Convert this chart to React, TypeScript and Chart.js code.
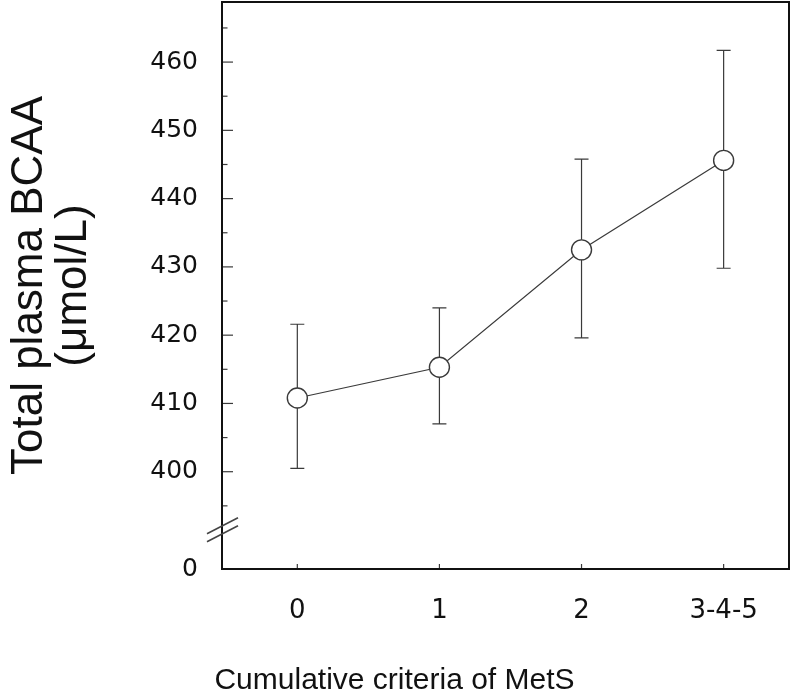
import React, { useEffect, useRef } from "react";
import { Chart, registerables } from "chart.js";

Chart.register(...registerables);

const categories = ["0", "1", "2", "3-4-5"];
const meanValues = [410.8, 415.3, 432.5, 445.6];
const upperValues = [421.6, 424.0, 445.8, 461.7];
const lowerValues = [400.5, 407.0, 419.6, 429.8];
const yTickValues = [395, 400, 405, 410, 415, 420, 425, 430, 435, 440, 445, 450, 455, 460, 465];
const yLabelStep = 10;
const yMin = 385.75;
const yMax = 468.8;
const breakValue = 391.5;
const zeroLabel = "0";

const frameColor = "#111111";
const markColor = "#3a3a3a";

const zeroPad = (s: any) => {
  s.paddingTop = 0;
  s.paddingBottom = 0;
  s.paddingLeft = 0;
  s.paddingRight = 0;
};

const decorPlugin = {
  id: "decor",
  beforeDatasetsDraw(chart: any) {
    const ctx = chart.ctx;
    const xs = chart.scales.x;
    const ys = chart.scales.y;
    ctx.save();
    ctx.strokeStyle = markColor;
    ctx.lineWidth = 1.2;
    meanValues.forEach((_, i) => {
      const x = xs.getPixelForValue(i);
      const yHi = ys.getPixelForValue(upperValues[i]);
      const yLo = ys.getPixelForValue(lowerValues[i]);
      ctx.beginPath();
      ctx.moveTo(x, yHi);
      ctx.lineTo(x, yLo);
      ctx.moveTo(x - 7, yHi);
      ctx.lineTo(x + 7, yHi);
      ctx.moveTo(x - 7, yLo);
      ctx.lineTo(x + 7, yLo);
      ctx.stroke();
    });
    ctx.restore();
  },
  afterDraw(chart: any) {
    const ctx = chart.ctx;
    const { left, right, top, bottom } = chart.chartArea;
    const xs = chart.scales.x;
    const ys = chart.scales.y;
    ctx.save();
    ctx.strokeStyle = markColor;
    ctx.lineWidth = 1.2;
    yTickValues.forEach((v) => {
      const y = ys.getPixelForValue(v);
      const len = v % yLabelStep === 0 ? 11 : 5.5;
      ctx.beginPath();
      ctx.moveTo(left, y);
      ctx.lineTo(left + len, y);
      ctx.stroke();
    });
    categories.forEach((_, i) => {
      const x = xs.getPixelForValue(i);
      ctx.beginPath();
      ctx.moveTo(x, bottom);
      ctx.lineTo(x, bottom - 5);
      ctx.stroke();
    });
    ctx.strokeStyle = frameColor;
    ctx.lineWidth = 2;
    ctx.strokeRect(left, top, right - left, bottom - top);
    const yb = ys.getPixelForValue(breakValue);
    ctx.strokeStyle = "#444444";
    ctx.lineWidth = 1.6;
    [-4, 4].forEach((d) => {
      ctx.beginPath();
      ctx.moveTo(left - 15, yb + 8 + d);
      ctx.lineTo(left + 16, yb - 8 + d);
      ctx.stroke();
    });
    ctx.restore();
  },
};

export default function App() {
  const ref = useRef<HTMLCanvasElement | null>(null);
  useEffect(() => {
    if (!ref.current) return;
    const chart = new Chart(ref.current, {
      type: "line",
      data: {
        datasets: [
          {
            data: meanValues.map((v, i) => ({ x: i, y: v })),
            borderColor: markColor,
            borderWidth: 1.2,
            pointRadius: 10,
            pointBackgroundColor: "#ffffff",
            pointBorderColor: markColor,
            pointBorderWidth: 1.4,
            tension: 0,
            fill: false,
          },
        ],
      },
      options: {
        animation: false,
        responsive: false,
        devicePixelRatio: 1,
        layout: { autoPadding: false, padding: { top: 2, right: 3, left: 0, bottom: 0 } },
        plugins: {
          legend: { display: false },
          tooltip: { enabled: false },
          title: {
            display: true,
            position: "bottom",
            text: "Cumulative criteria of MetS",
            color: "#111111",
            font: { family: "'Liberation Sans', Arial, sans-serif", size: 30, weight: "normal", lineHeight: 1.2 },
            padding: { top: 0, bottom: 0 },
          },
        },
        scales: {
          x: {
            type: "linear",
            min: -0.53,
            max: 3.46,
            afterBuildTicks: (s: any) => {
              s.ticks = categories.map((_, i) => ({ value: i }));
            },
            afterFit: (s: any) => {
              s.height = 94;
              zeroPad(s);
            },
            grid: { display: false, drawTicks: false },
            border: { display: false },
            ticks: {
              autoSkip: false,
              maxRotation: 0,
              padding: 27,
              color: "#111111",
              font: { family: "'DejaVu Sans', sans-serif", size: 26 },
              callback: (v: any) => categories[v] ?? "",
            },
          },
          y: {
            type: "linear",
            min: yMin,
            max: yMax,
            afterBuildTicks: (s: any) => {
              s.ticks = [{ value: yMin }, ...yTickValues.map((v) => ({ value: v }))];
            },
            afterFit: (s: any) => {
              s.width = 222;
              zeroPad(s);
            },
            grid: { display: false, drawTicks: false },
            border: { display: false },
            title: {
              display: true,
              text: ["Total plasma BCAA", "(\u03bcmol/L)"],
              color: "#111111",
              font: { family: "'Liberation Sans', Arial, sans-serif", size: 44, lineHeight: 1.0 },
              padding: { top: 8, bottom: 0 },
            },
            ticks: {
              autoSkip: false,
              padding: 24,
              color: "#111111",
              font: { family: "'DejaVu Sans', sans-serif", size: 25 },
              callback: (v: any) => {
                if (Math.abs(v - yMin) < 0.01) return zeroLabel;
                return v % yLabelStep === 0 ? String(v) : "";
              },
            },
          },
        },
      },
      plugins: [decorPlugin],
    });
    return () => chart.destroy();
  }, []);
  return (
    <div style={{ position: "fixed", left: 0, top: 0, width: 792, height: 699, background: "#ffffff" }}>
      <canvas ref={ref} width={792} height={699} style={{ display: "block", width: 792, height: 699 }} />
    </div>
  );
}
